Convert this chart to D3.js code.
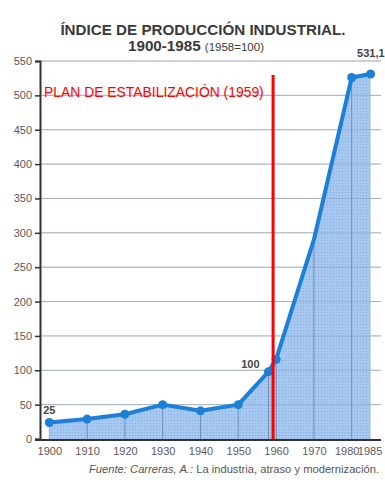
<!DOCTYPE html>
<html>
<head>
<meta charset="utf-8">
<script src="https://cdn.jsdelivr.net/npm/d3@7"></script>
<style>
  body { margin: 0; background: #fff; }
  svg { display: block; font-family: "Liberation Sans", Arial, sans-serif; }
</style>
</head>
<body>
<div id="chart"></div>
<script>
// data
var years  = [1900, 1910, 1920, 1930, 1940, 1950, 1958, 1960, 1970, 1980, 1985];
var values = [24, 29, 36, 50, 41, 50, 98, 116, 290, 526, 531.1];
var markers = [true, true, true, true, true, true, true, true, false, true, true];
var yTicks = [0, 50, 100, 150, 200, 250, 300, 350, 400, 450, 500, 550];
var xTicks = [1900, 1910, 1920, 1930, 1940, 1950, 1960, 1970, 1980, 1985];
var labels = [
  { year: 1900, value: 24, text: '25' },
  { year: 1958, value: 98, text: '100' },
  { year: 1985, value: 531.1, text: '531,1' }
];

var w = 385, h = 480;
var svg = d3.select('#chart').append('svg')
  .attr('width', w)
  .attr('height', h);

var x = d3.scaleLinear().domain([1900, 1980]).range([49.3, 351.7]);
var y = d3.scaleLinear().domain([0, 550]).range([439, 61]);

var data = years.map(function (yr, i) { return { year: yr, value: values[i], mark: markers[i] }; });

// dotted fill pattern
var defs = svg.append('defs');
var pat = defs.append('pattern')
  .attr('id', 'dots')
  .attr('width', 3)
  .attr('height', 3)
  .attr('patternUnits', 'userSpaceOnUse');
pat.append('rect').attr('width', 3).attr('height', 3).attr('fill', '#a6c7f0');
pat.append('rect').attr('width', 1).attr('height', 1).attr('fill', '#88afe2');

// title
var title = svg.append('g').attr('fill', '#3a3a3a').attr('text-anchor', 'middle');
title.append('text')
  .attr('x', 203).attr('y', 35)
  .attr('font-size', 15.2).attr('font-weight', 'bold')
  .text('ÍNDICE DE PRODUCCIÓN INDUSTRIAL.');
var t2 = title.append('text').attr('x', 196).attr('y', 51);
t2.append('tspan').attr('font-size', 15.2).attr('font-weight', 'bold').text('1900-1985 ');
t2.append('tspan').attr('font-size', 11.5).text('(1958=100)');

// horizontal grid
svg.append('g').selectAll('line')
  .data(yTicks.slice(1))
  .enter().append('line')
  .attr('x1', 40).attr('x2', 381)
  .attr('y1', function (d) { return y(d); })
  .attr('y2', function (d) { return y(d); })
  .attr('stroke', '#bdbdbd')
  .attr('stroke-width', 1);

// area
var curve = d3.curveLinear;
svg.append('path')
  .datum(data)
  .attr('d', d3.area()
    .x(function (d) { return x(d.year); })
    .y0(y(0))
    .y1(function (d) { return y(d.value); })
    .curve(curve))
  .attr('fill', 'url(#dots)');

// grid lines seen through the fill
svg.append('g').selectAll('line')
  .data(yTicks.slice(1))
  .enter().append('line')
  .attr('x1', 40).attr('x2', 381)
  .attr('y1', function (d) { return y(d); })
  .attr('y2', function (d) { return y(d); })
  .attr('stroke', '#7d97b8')
  .attr('stroke-opacity', 0.35)
  .attr('stroke-width', 1);

// drop lines
svg.append('g').selectAll('line')
  .data(data.slice(0, -1))
  .enter().append('line')
  .attr('x1', function (d) { return x(d.year); })
  .attr('x2', function (d) { return x(d.year); })
  .attr('y1', function (d) { return y(d.value); })
  .attr('y2', y(0))
  .attr('stroke', '#5f7fa8')
  .attr('stroke-opacity', function (d) { return d.year == 1900 ? 0.5 : 0.75; })
  .attr('stroke-width', 1);

// line
svg.append('path')
  .datum(data)
  .attr('d', d3.line()
    .x(function (d) { return x(d.year); })
    .y(function (d) { return y(d.value); })
    .curve(curve))
  .attr('fill', 'none')
  .attr('stroke', '#1c7fd8')
  .attr('stroke-width', 4)
  .attr('stroke-linejoin', 'round');

// markers
svg.append('g').selectAll('circle')
  .data(data.filter(function (d) { return d.mark; }))
  .enter().append('circle')
  .attr('cx', function (d) { return x(d.year); })
  .attr('cy', function (d) { return y(d.value); })
  .attr('r', 4.5)
  .attr('fill', '#1c7fd8');

// value labels
svg.append('g').selectAll('text')
  .data(labels)
  .enter().append('text')
  .attr('x', function (d) { return x(d.year) + (d.year == 1900 ? 0 : d.year == 1958 ? -9 : 14); })
  .attr('y', function (d) { return y(d.value) - (d.year == 1985 ? 17 : d.year == 1958 ? 4 : 9); })
  .attr('text-anchor', function (d) { return d.year == 1900 ? 'middle' : 'end'; })
  .attr('font-size', 11)
  .attr('font-weight', 'bold')
  .attr('fill', '#444')
  .text(function (d) { return d.text; });

// y axis
var yAxis = svg.append('g')
  .attr('transform', 'translate(40,0)')
  .call(d3.axisLeft(y).tickValues(yTicks).tickSize(5).tickPadding(3));
yAxis.select('.domain').attr('stroke', '#333').attr('stroke-width', 2);
yAxis.selectAll('.tick line').attr('stroke', '#333').attr('stroke-width', 1.5);
yAxis.selectAll('.tick text')
  .attr('fill', '#5a5a5a')
  .attr('font-size', 11)
  .attr('font-family', '"Liberation Sans", Arial, sans-serif');

// x axis
var xAxis = svg.append('g')
  .attr('transform', 'translate(0,' + (y(0) + 1) + ')')
  .call(d3.axisBottom(x).tickValues(xTicks).tickSize(0).tickPadding(7).tickFormat(d3.format('d')));
xAxis.select('.domain').remove();
xAxis.append('line')
  .attr('x1', 35).attr('x2', 381)
  .attr('stroke', '#333').attr('stroke-width', 2);
xAxis.selectAll('.tick text')
  .attr('fill', '#5a5a5a')
  .attr('font-size', 11)
  .attr('font-family', '"Liberation Sans", Arial, sans-serif')
  .attr('dx', function (d) { return d == 1980 ? -5 : d == 1985 ? -1 : 0; });

// plan de estabilización
svg.append('line')
  .attr('x1', x(1959.2)).attr('x2', x(1959.2))
  .attr('y1', 75).attr('y2', y(0))
  .attr('stroke', '#ff0000')
  .attr('stroke-width', 3);
svg.append('text')
  .attr('x', 44).attr('y', 97)
  .attr('font-size', 13.9)
  .attr('fill', '#ff0000')
  .text('PLAN DE ESTABILIZACIÓN (1959)');

// source
var src = svg.append('text')
  .attr('x', 379).attr('y', 473)
  .attr('text-anchor', 'end')
  .attr('font-size', 11.2)
  .attr('fill', '#555');
src.append('tspan').attr('font-style', 'italic').text('Fuente: Carreras, A.:');
src.append('tspan').text(' La industria, atraso y modernización.');
</script>
</body>
</html>
